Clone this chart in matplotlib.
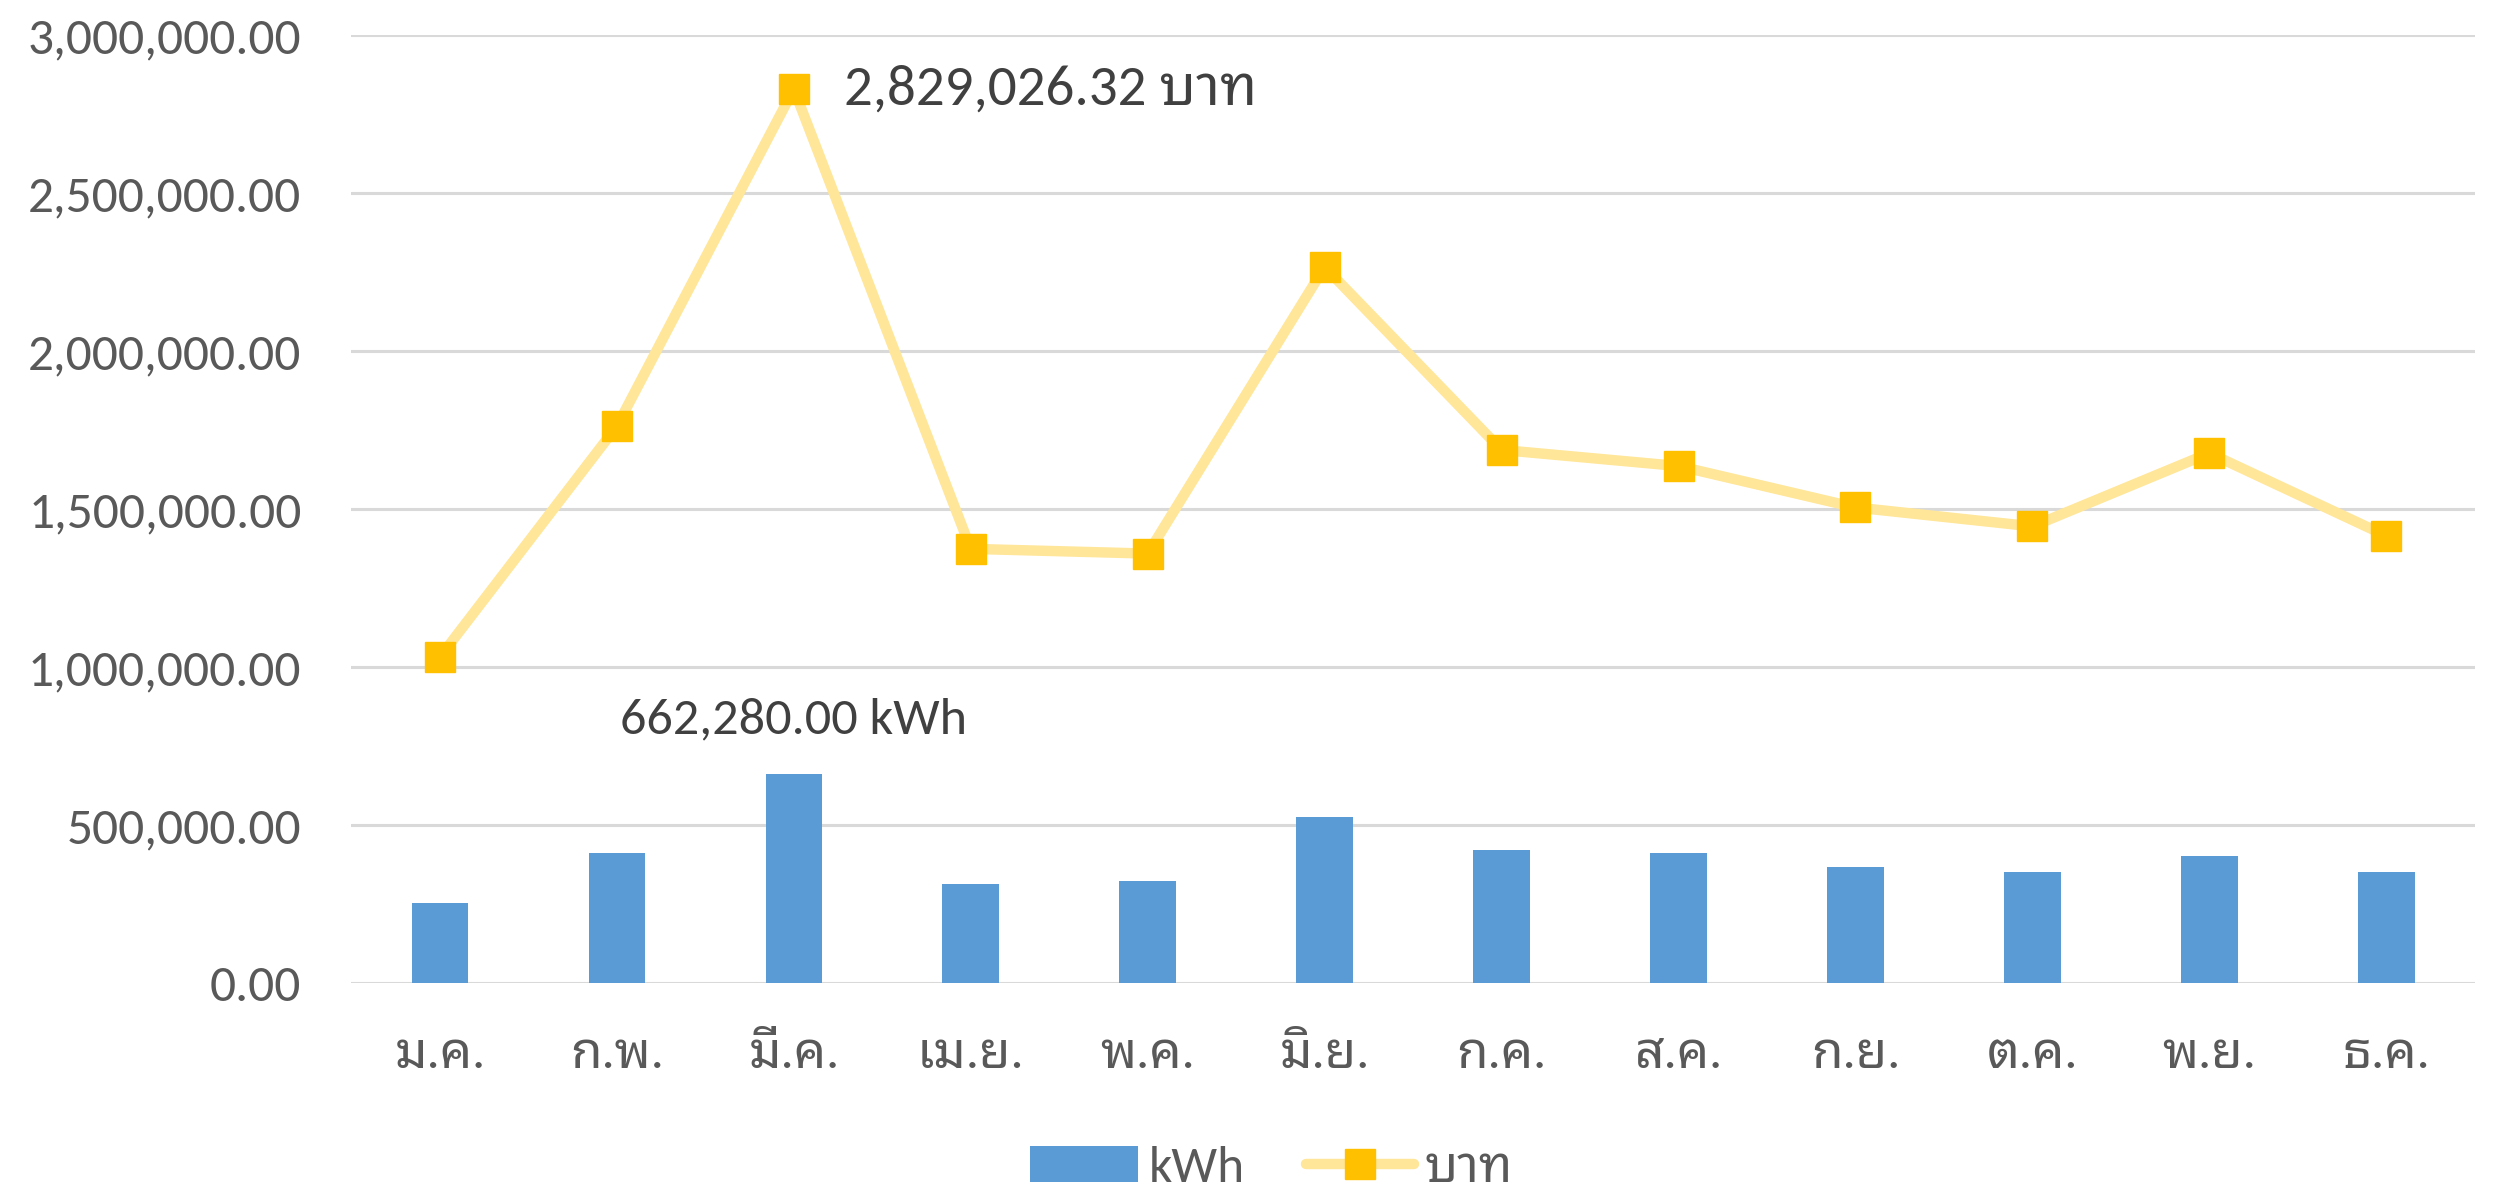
import matplotlib
matplotlib.use("Agg")
import matplotlib.pyplot as plt
from matplotlib.ticker import FuncFormatter, MultipleLocator

plt.rcParams['font.family'] = ['Carlito', 'Noto Sans Thai Looped', 'DejaVu Sans']

months = ['ม.ค.', 'ก.พ.', 'มี.ค.', 'เม.ย.', 'พ.ค.', 'มิ.ย.',
          'ก.ค.', 'ส.ค.', 'ก.ย.', 'ต.ค.', 'พ.ย.', 'ธ.ค.']
kwh = [252000, 411000, 662280, 314500, 323000, 525000,
       420000, 412000, 368000, 350000, 402000, 350000]
baht = [1032000, 1762000, 2829026.32, 1374000, 1359000, 2266000,
        1687000, 1636000, 1505000, 1445000, 1677000, 1415000]

x = list(range(len(months)))

fig = plt.figure(figsize=(24.98, 11.91), dpi=100)
ax = fig.add_axes([0.1407, 0.1746, 0.85, 0.796])

bars = ax.bar(x, kwh, width=0.32, color='#5B9BD5', label='kWh', zorder=2)
line, = ax.plot(x, baht, color='#FFE699', linewidth=7.5, solid_capstyle='round',
                marker='s', markersize=22, markerfacecolor='#FFC000',
                markeredgecolor='#FFC000', label='บาท', zorder=3)

ax.set_xlim(-0.5, len(months) - 0.5)
ax.set_ylim(0, 3000000)
ax.yaxis.set_major_locator(MultipleLocator(500000))
ax.yaxis.set_major_formatter(FuncFormatter(lambda v, p: '{:,.2f}'.format(v)))
ax.grid(axis='y', color='#D9D9D9', linewidth=2.2, zorder=0)
ax.set_axisbelow(True)
for s in ax.spines.values():
    s.set_visible(False)

ax.set_xticks(x)
ax.set_xticklabels(months)
ax.tick_params(axis='y', length=0, pad=36, labelsize=37, labelcolor='#595959')
ax.tick_params(axis='x', length=0, pad=35, labelsize=37, labelcolor='#595959')

# data labels on the peaks
i_k = kwh.index(max(kwh))
ax.annotate('{:,.2f} kWh'.format(kwh[i_k]), (x[i_k], kwh[i_k]),
            xytext=(0, 29), textcoords='offset points', ha='center',
            va='baseline', fontsize=37.5, color='#404040')
i_b = baht.index(max(baht))
ax.annotate('{:,.2f} บาท'.format(baht[i_b]), (x[i_b], baht[i_b]),
            xytext=(36, 0), textcoords='offset points', ha='left',
            va='center', fontsize=41, color='#404040')

fig.legend([bars, line], ['kWh', 'บาท'], loc='center',
           bbox_to_anchor=(0.509, 0.019), ncol=2, frameon=False,
           fontsize=37, labelcolor='#595959', handlelength=2.1,
           handletextpad=0.2, columnspacing=1.2)

fig.savefig('out.png', dpi=100)
